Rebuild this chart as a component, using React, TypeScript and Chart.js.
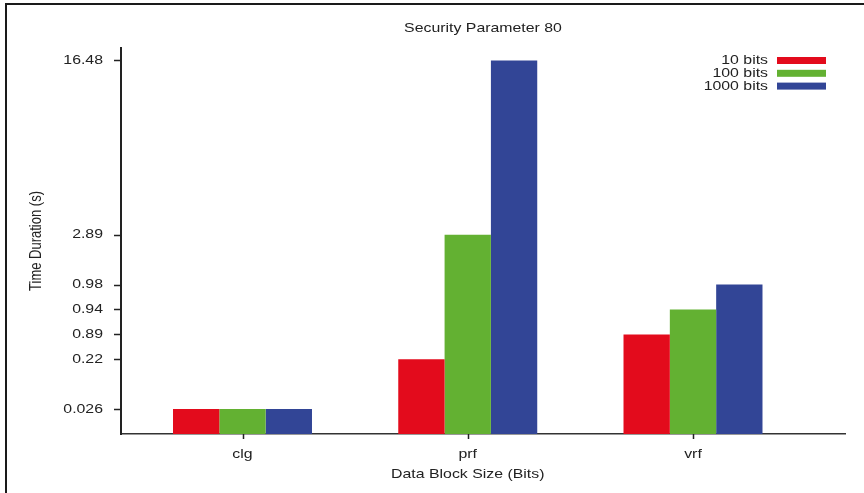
import React, { useEffect, useRef } from "react";
import { Chart, registerables } from "chart.js";

Chart.register(...registerables);

const categories = ["clg", "prf", "vrf"];
const seriesLabels = ["10 bits", "100 bits", "1000 bits"];
const seriesColors = ["#E30B1C", "#63B132", "#324596"];
const durations10 = [0.026, 0.22, 0.89];
const durations100 = [0.026, 2.89, 0.94];
const durations1000 = [0.026, 16.48, 0.98];
const tickLabels = ["0.026", "0.22", "0.89", "0.94", "0.98", "2.89", "16.48"];
const tickPositions = [1, 3, 4, 5, 6, 8, 15];

const chartTitle = "Security Parameter 80";
const xTitle = "Data Block Size (Bits)";
const yTitle = "Time Duration (s)";

const FONT = '13px "Liberation Sans", Arial, sans-serif';
const STRETCH = 1.22;
const TEXT = "#222222";

function posOf(v: number): number {
  const i = tickLabels.findIndex((t) => parseFloat(t) === v);
  return tickPositions[i];
}

function drawText(ctx: CanvasRenderingContext2D, text: string, x: number, y: number, align: CanvasTextAlign, sx = STRETCH) {
  ctx.save();
  ctx.translate(x, y);
  ctx.scale(sx, 1);
  ctx.textAlign = align;
  ctx.textBaseline = "middle";
  ctx.fillText(text, 0, 0);
  ctx.restore();
}

const textPlugin = {
  id: "textPlugin",
  beforeDraw(chart: any) {
    const ctx = chart.ctx as CanvasRenderingContext2D;
    ctx.save();
    ctx.fillStyle = "#ffffff";
    ctx.fillRect(0, 0, chart.width, chart.height);
    ctx.fillStyle = "#1a1a1a";
    ctx.fillRect(5, 3, chart.width - 5, 2);
    ctx.fillRect(5, 3, 2, chart.height - 3);
    ctx.restore();
  },
  afterDraw(chart: any) {
    const ctx = chart.ctx as CanvasRenderingContext2D;
    const area = chart.chartArea;
    const xs = chart.scales.x;
    const ys = chart.scales.y;
    ctx.save();
    // tick marks
    ctx.strokeStyle = "#222";
    ctx.lineWidth = 1.5;
    ctx.beginPath();
    ys.ticks.forEach((t: any) => {
      const py = Math.round(ys.getPixelForValue(t.value)) + 0.5;
      ctx.moveTo(area.left - 7, py);
      ctx.lineTo(area.left, py);
    });
    categories.forEach((_, i) => {
      const px = Math.round(xs.getPixelForValue(i)) + 0.5;
      ctx.moveTo(px, area.bottom);
      ctx.lineTo(px, area.bottom + 5);
    });
    ctx.stroke();
    ctx.font = FONT;
    ctx.fillStyle = TEXT;
    drawText(ctx, chartTitle, (area.left + area.right) / 2, 28, "center");
    ys.ticks.forEach((t: any, i: number) => {
      drawText(ctx, tickLabels[i], area.left - 18, ys.getPixelForValue(t.value), "right");
    });
    categories.forEach((c, i) => {
      drawText(ctx, c, xs.getPixelForValue(i), area.bottom + 20, "center");
    });
    drawText(ctx, xTitle, xs.getPixelForValue(1), area.bottom + 40, "center");
    ctx.save();
    ctx.translate(37, (area.top + area.bottom) / 2);
    ctx.rotate(-Math.PI / 2);
    ctx.scale(1, STRETCH);
    ctx.textAlign = "center";
    ctx.textBaseline = "middle";
    ctx.fillText(yTitle, 0, 0);
    ctx.restore();
    chart.data.datasets.forEach((ds: any, i: number) => {
      const y = 60.5 + i * 12.8;
      ctx.fillStyle = TEXT;
      drawText(ctx, ds.label, 768, y, "right");
      ctx.fillStyle = ds.backgroundColor;
      ctx.fillRect(777, y - 3.5, 49, 7);
    });
    ctx.restore();
  },
};

export default function App() {
  const ref = useRef<HTMLCanvasElement | null>(null);
  useEffect(() => {
    if (!ref.current) return;
    const series = [durations10, durations100, durations1000];
    const chart = new Chart(ref.current, {
      type: "bar",
      data: {
        datasets: series.map((s, k) => ({
          label: seriesLabels[k],
          backgroundColor: seriesColors[k],
          borderWidth: 0,
          data: s.map((v, i) => ({ x: i, y: posOf(v) })),
        })),
      },
      options: {
        animation: false,
        responsive: false,
        devicePixelRatio: 1,
        layout: { padding: { left: 0, right: 19, top: 48, bottom: 0 } },
        categoryPercentage: 0.617,
        barPercentage: 1,
        plugins: { legend: { display: false }, title: { display: false }, tooltip: { enabled: false } },
        scales: {
          x: {
            type: "linear",
            offset: false,
            min: -0.5394,
            max: 2.6748,
            afterBuildTicks: (scale: any) => {
              scale.ticks = categories.map((_, i) => ({ value: i }));
            },
            afterFit: (scale: any) => {
              scale.height = 59;
            },
            ticks: { display: false },
            grid: { display: false, offset: false },
            border: { display: true, color: "#333", width: 1.5 },
          },
          y: {
            type: "linear",
            min: 0,
            max: 15.5,
            afterBuildTicks: (scale: any) => {
              scale.ticks = tickPositions.map((v) => ({ value: v }));
            },
            afterFit: (scale: any) => {
              scale.width = 121;
            },
            ticks: { display: false },
            grid: { display: false },
            border: { display: true, color: "#222", width: 2 },
          },
        },
      } as any,
      plugins: [textPlugin],
    });
    return () => chart.destroy();
  }, []);
  return (
    <div style={{ position: "fixed", left: 0, top: 0, width: 864, height: 493, background: "#fff" }}>
      <canvas ref={ref} width={864} height={493} style={{ display: "block", width: 864, height: 493 }} />
    </div>
  );
}
